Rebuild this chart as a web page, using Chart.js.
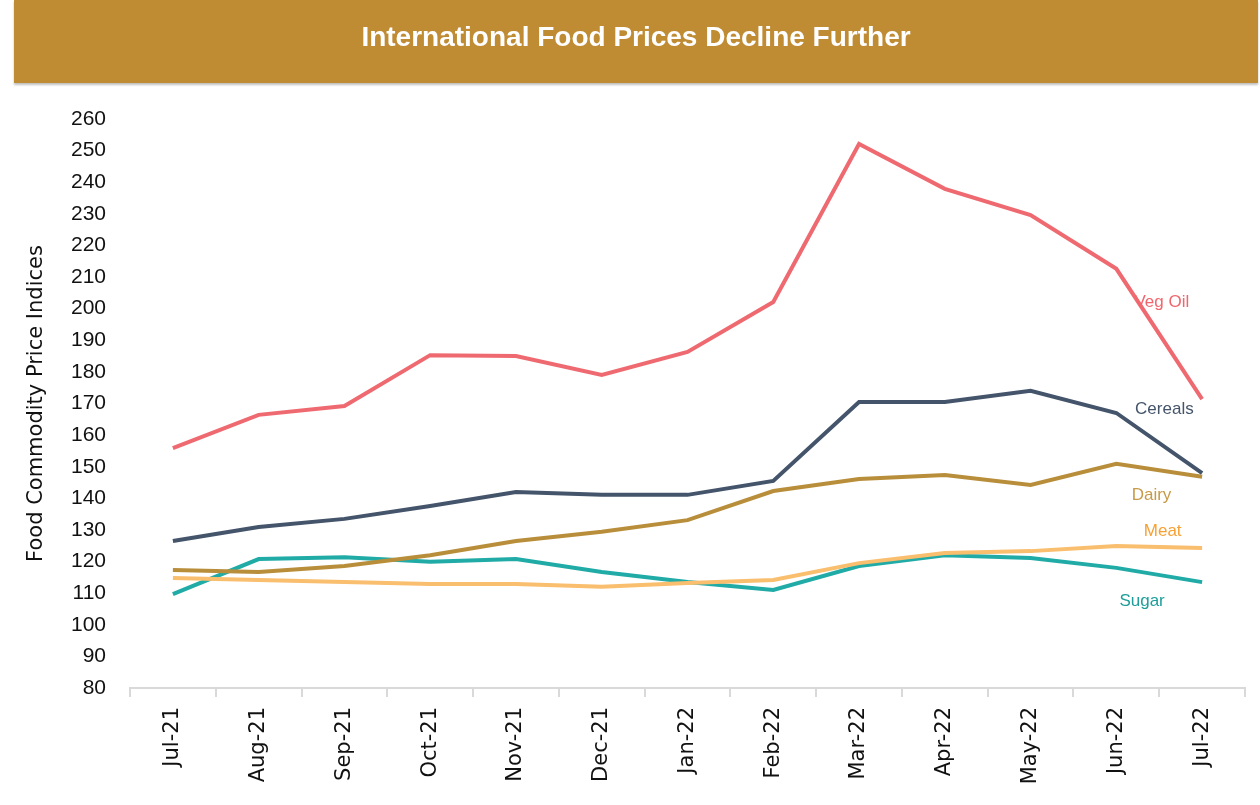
<!DOCTYPE html>
<html>
<head>
<meta charset="utf-8">
<script src="https://cdn.jsdelivr.net/npm/chart.js@4/dist/chart.umd.min.js"></script>
<style>
  html, body { margin: 0; padding: 0; background: #fff; }
  #wrap { position: relative; width: 1260px; height: 805px; overflow: hidden; }
  #banner {
    position: absolute; left: 14px; top: 0; width: 1244px; height: 83px;
    background: #BF8B33; box-shadow: 0 2px 2px rgba(0,0,0,0.25);
    color: #fff; font: bold 28px "Liberation Sans", Arial, sans-serif;
    text-align: center; line-height: 74px; z-index: 2;
  }
  #chart { position: absolute; left: 0; top: 0; }
</style>
</head>
<body>
<div id="wrap">
  <div id="banner">International Food Prices Decline Further</div>
  <canvas id="chart" width="1260" height="805"></canvas>
</div>
<script>
// months on the x axis
const months = ['Jul-21', 'Aug-21', 'Sep-21', 'Oct-21', 'Nov-21', 'Dec-21', 'Jan-22',
  'Feb-22', 'Mar-22', 'Apr-22', 'May-22', 'Jun-22', 'Jul-22'];

// price indices
const vegOil  = [155.9, 166.4, 169.2, 185.3, 185.0, 179.0, 186.3, 202.1, 252.1, 237.9, 229.6, 212.6, 171.4];
const cereals = [126.5, 130.9, 133.5, 137.6, 142.0, 141.1, 141.1, 145.5, 170.5, 170.5, 174.0, 167.0, 148.0];
const dairy   = [117.3, 116.7, 118.6, 122.0, 126.5, 129.4, 133.1, 142.3, 146.1, 147.4, 144.2, 150.9, 146.8];
const meat    = [114.8, 114.2, 113.5, 112.9, 112.9, 112.0, 113.2, 114.2, 119.5, 122.7, 123.3, 124.9, 124.3];
const sugar   = [109.7, 120.8, 121.4, 119.9, 120.8, 116.7, 113.5, 111.0, 118.6, 122.0, 121.1, 118.0, 113.5];

const yTicks = { min: 80, max: 260, step: 10 };

function series(label, data, color, textColor) {
  return {
    label: label, data: data, borderColor: color, backgroundColor: color,
    textColor: textColor, borderWidth: 4, pointRadius: 0, tension: 0, fill: false
  };
}

// text labels next to the line ends (x as fractional category index, y as index value)
const endLabels = {
  id: 'endLabels',
  afterDatasetsDraw(chart, args, opts) {
    const ctx = chart.ctx;
    const xs = chart.scales.x, ys = chart.scales.y;
    ctx.save();
    ctx.font = '17px "Liberation Sans", Arial, sans-serif';
    ctx.textAlign = 'center';
    ctx.textBaseline = 'middle';
    opts.items.forEach(function (it) {
      const ds = chart.data.datasets[it.ds];
      const i0 = Math.floor(it.at);
      const x0 = xs.getPixelForValue(i0), x1 = xs.getPixelForValue(i0 + 1);
      const x = x0 + (x1 - x0) * (it.at - i0);
      ctx.fillStyle = ds.textColor;
      ctx.fillText(ds.label, x, ys.getPixelForValue(it.val));
    });
    ctx.restore();
  }
};

new Chart(document.getElementById('chart'), {
  type: 'line',
  data: {
    labels: months,
    datasets: [
      series('Veg Oil', vegOil, '#EF6A70', '#F0666C'),
      series('Cereals', cereals, '#44546A', '#44546A'),
      series('Dairy', dairy, '#B98E3B', '#C79A48'),
      series('Meat', meat, '#F9BE6E', '#F7A033'),
      series('Sugar', sugar, '#21ABA7', '#1E9E9A')
    ]
  },
  options: {
    responsive: false,
    animation: false,
    layout: { padding: { top: 119, right: 15, left: 24, bottom: 0 } },
    plugins: {
      legend: { display: false },
      tooltip: { enabled: false },
      endLabels: {
        items: [
          { ds: 0, at: 11.53, val: 202 },
          { ds: 1, at: 11.56, val: 168.3 },
          { ds: 2, at: 11.41, val: 141 },
          { ds: 3, at: 11.54, val: 129.7 },
          { ds: 4, at: 11.30, val: 107.5 }
        ]
      }
    },
    scales: {
      x: {
        offset: true,
        grid: { offset: true, drawOnChartArea: false, drawTicks: true, tickLength: 9, color: '#d9d9d9', lineWidth: 2 },
        border: { color: '#d9d9d9', width: 2 },
        ticks: {
          color: '#111', maxRotation: 90, minRotation: 90, padding: 10, autoSkip: false,
          font: { family: '"DejaVu Sans", Verdana, sans-serif', size: 21 }
        },
        afterFit(scale) { scale.height = 117; }
      },
      y: {
        min: yTicks.min, max: yTicks.max,
        grid: { display: false },
        border: { display: false },
        ticks: {
          stepSize: yTicks.step, color: '#111', padding: 16, autoSkip: false,
          font: { family: '"Liberation Sans", Arial, sans-serif', size: 21 }
        },
        title: {
          display: true, text: 'Food Commodity Price Indices', color: '#111',
          font: { family: '"DejaVu Sans", Verdana, sans-serif', size: 21 },
          padding: { top: 0, bottom: 10 }
        },
        afterFit(scale) { scale.width = 106; }
      }
    }
  },
  plugins: [endLabels]
});
</script>
</body>
</html>
